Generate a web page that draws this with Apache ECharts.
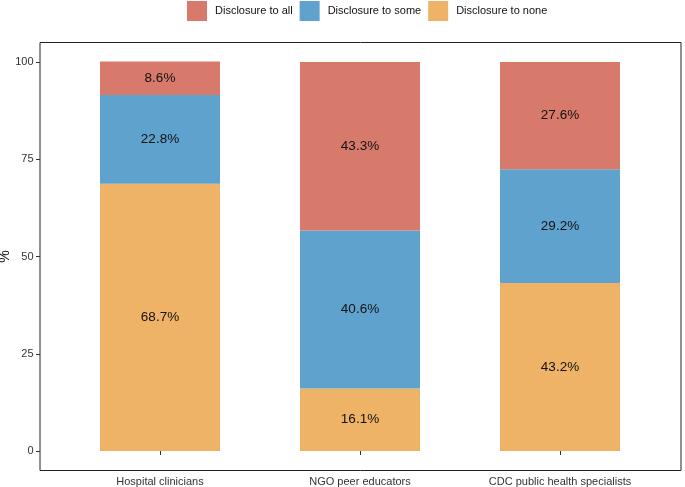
<!DOCTYPE html>
<html>
<head>
<meta charset="utf-8">
<script src="https://cdn.jsdelivr.net/npm/echarts@6/dist/echarts.min.js"></script>
<style>html,body{margin:0;padding:0;background:#fff;}#c{width:685px;height:487px;}</style>
</head>
<body>
<div id="c"></div>
<script>
var categories = ['Hospital clinicians', 'NGO peer educators', 'CDC public health specialists'];
var seriesNames = ['Disclosure to all', 'Disclosure to some', 'Disclosure to none'];
var disclosureNone = [68.7, 16.1, 43.2];
var disclosureSome = [22.8, 40.6, 29.2];
var disclosureAll = [8.6, 43.3, 27.6];
var yTicks = [0, 25, 50, 75, 100];

var colors = {all: '#d87a6b', some: '#5fa2ce', none: '#efb367'};
var font = 'Liberation Sans, Arial, Helvetica, sans-serif';

function barSeries(name, data, color) {
  return {
    name: name, type: 'bar', stack: 'total', xAxisIndex: 1, yAxisIndex: 1,
    barWidth: '60%', data: data,
    itemStyle: {color: color},
    label: {show: true, position: 'inside', formatter: function (p) { return p.value.toFixed(1) + '%'; },
      color: '#111', fontSize: 13.5, fontFamily: font},
    emphasis: {disabled: true}
  };
}

var chart = echarts.init(document.getElementById('c'), null, {renderer: 'canvas'});
chart.setOption({
  animation: false,
  backgroundColor: '#fff',
  textStyle: {fontFamily: font},
  legend: {
    data: seriesNames, top: 1, left: 187, padding: 0,
    itemWidth: 20, itemHeight: 20, itemGap: 7, icon: 'rect',
    textStyle: {fontSize: 11, color: '#111', fontFamily: font, padding: [0, 0, 0, 3]}
  },
  grid: [
    {left: 40, right: 4, top: 42.5, bottom: 16.5, show: true, borderColor: '#222', borderWidth: 1,
      backgroundColor: 'transparent', containLabel: false, outerBoundsMode: 'none'},
    {left: 60, right: 25, top: 42.5, bottom: 16.5, containLabel: false, outerBoundsMode: 'none'}
  ],
  xAxis: [
    {type: 'value', gridIndex: 0, min: 0, max: 1, show: false},
    {type: 'category', gridIndex: 1, data: categories, boundaryGap: true,
      axisLine: {show: false},
      axisTick: {show: true, alignWithLabel: true, length: 4, lineStyle: {color: '#333'}},
      axisLabel: {fontSize: 11, color: '#333', margin: 6, fontFamily: font}}
  ],
  yAxis: [
    {type: 'value', gridIndex: 0, min: -5, max: 105,
      name: '%', nameLocation: 'middle', nameGap: 28, nameMoveOverlap: false,
      nameTextStyle: {fontSize: 14, color: '#111', fontFamily: font},
      axisLine: {show: false}, splitLine: {show: false},
      axisTick: {show: true, length: 4, customValues: yTicks, lineStyle: {color: '#333'}},
      axisLabel: {fontSize: 11, color: '#333', margin: 6.5, customValues: yTicks, fontFamily: font}},
    {type: 'value', gridIndex: 1, min: -5, max: 105, show: false}
  ],
  series: [
    barSeries(seriesNames[2], disclosureNone, colors.none),
    barSeries(seriesNames[1], disclosureSome, colors.some),
    barSeries(seriesNames[0], disclosureAll, colors.all)
  ]
});
</script>
</body>
</html>
